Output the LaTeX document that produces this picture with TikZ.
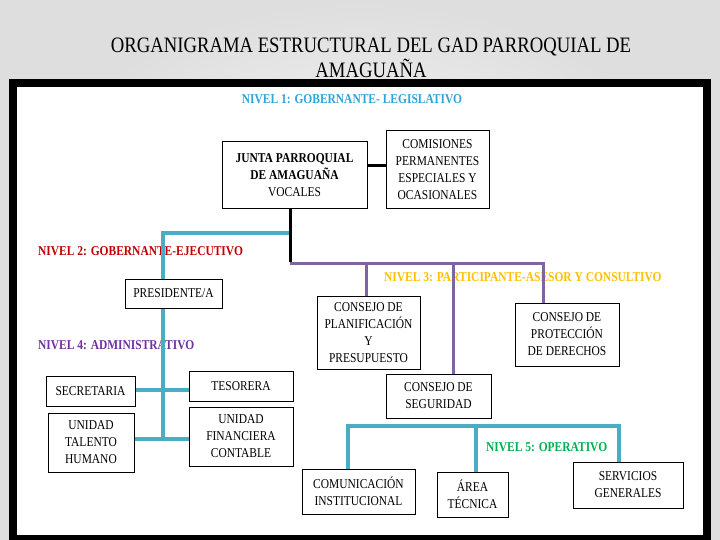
\documentclass[tikz,border=0pt]{standalone}
\usepackage{fontspec}
\setmainfont{Liberation Serif}[FakeStretch=0.85]
\usetikzlibrary{calc}
\definecolor{tealline}{HTML}{4BACC6}
\definecolor{purpline}{HTML}{8064A2}
\definecolor{nivA}{HTML}{2FA4D6}
\definecolor{nivB}{HTML}{C00000}
\definecolor{nivC}{HTML}{FFC000}
\definecolor{nivD}{HTML}{7030A0}
\definecolor{nivE}{HTML}{00B050}
\tikzset{
  orgbox/.style={draw=black, line width=1pt, fill=white, align=center, inner sep=0pt,
    font=\fontsize{13.5}{17}\selectfont},
  levellabel/.style={font=\fontsize{13.5}{16}\selectfont\bfseries, inner sep=0pt},
  blkline/.style={draw=black, line width=3pt},
  tealconn/.style={draw=tealline, line width=3.5pt},
  purpconn/.style={draw=purpline, line width=3pt},
}
\begin{document}
\begin{tikzpicture}[x=1pt,y=-1pt]
\useasboundingbox (0,0) rectangle (720,540);
% background
\shade[inner color=white, outer color=black!13] (0,0) rectangle (720,540);
\fill[black] (9,79) rectangle (711,540);
\fill[white] (17,87) rectangle (703,535);
% title
\node[font=\fontsize{22}{26}\selectfont, inner sep=0pt] (title1) at (371,47) {ORGANIGRAMA ESTRUCTURAL DEL GAD PARROQUIAL DE};
\node[font=\fontsize{22}{26}\selectfont, inner sep=0pt] (title2) at (371,68) {AMAGUAÑA};
% level labels
\node[levellabel, text=nivA] (n1) at (352,99) {NIVEL 1: GOBERNANTE- LEGISLATIVO};
\node[levellabel, text=nivB, anchor=west] (n2) at (38,251) {NIVEL 2: GOBERNANTE-EJECUTIVO};
\node[levellabel, text=nivC, anchor=west] (n3) at (384,277) {NIVEL 3: PARTICIPANTE-ASESOR Y CONSULTIVO};
\node[levellabel, text=nivD, anchor=west] (n4) at (38,345) {NIVEL 4: ADMINISTRATIVO};
\node[levellabel, text=nivE, anchor=west] (n5) at (486,447) {NIVEL 5: OPERATIVO};
% boxes
\node[orgbox, minimum width=145pt, minimum height=67pt] (junta) at (294.5,175.5) {\textbf{JUNTA PARROQUIAL}\\\textbf{DE AMAGUAÑA}\\VOCALES};
\node[orgbox, minimum width=103pt, minimum height=78pt] (comis) at (437.5,170) {COMISIONES\\PERMANENTES\\ESPECIALES Y\\OCASIONALES};
\node[orgbox, minimum width=97pt, minimum height=29pt] (pres) at (173.5,293.5) {PRESIDENTE/A};
\node[orgbox, minimum width=103pt, minimum height=73pt] (plan) at (368.5,332.5) {CONSEJO DE\\PLANIFICACIÓN\\Y\\PRESUPUESTO};
\node[orgbox, minimum width=104pt, minimum height=63pt] (prot) at (567,334.5) {CONSEJO DE\\PROTECCIÓN\\DE DERECHOS};
\node[orgbox, minimum width=105pt, minimum height=44pt] (seg) at (438.5,396) {CONSEJO DE\\SEGURIDAD};
\node[orgbox, minimum width=89pt, minimum height=30pt] (secr) at (90.5,391) {SECRETARIA};
\node[orgbox, minimum width=104pt, minimum height=30pt] (teso) at (241,386) {TESORERA};
\node[orgbox, minimum width=86pt, minimum height=59pt] (uth) at (91,442.5) {UNIDAD\\TALENTO\\HUMANO};
\node[orgbox, minimum width=104pt, minimum height=59pt] (ufc) at (241,436.5) {UNIDAD\\FINANCIERA\\CONTABLE};
\node[orgbox, minimum width=113pt, minimum height=45pt] (com) at (358.5,491.5) {COMUNICACIÓN\\INSTITUCIONAL};
\node[orgbox, minimum width=71pt, minimum height=45pt] (area) at (472.5,494.5) {ÁREA\\TÉCNICA};
\node[orgbox, minimum width=110pt, minimum height=46pt] (serv) at (628,485) {SERVICIOS\\GENERALES};
% junction coordinates
\coordinate (jA) at (290,263);
\coordinate (tA) at (290,233);
\coordinate (tB) at (163,233);
\coordinate (pA) at (366,263);
\coordinate (pB) at (453,263);
\coordinate (pC) at (543,263);
\coordinate (tC) at (163,439);
\coordinate (hA) at (163,390);
\coordinate (hB) at (163,439);
\coordinate (oA) at (348,426);
\coordinate (oB) at (476,426);
\coordinate (oC) at (619,426);
% connectors
\draw[blkline] ([yshift=9.5pt]junta.east) -- ([yshift=9.5pt]junta.east -| comis.west);
\draw[tealconn] (tA) -- (tB) -- (tB |- pres.north);
\draw[purpconn] (jA) -- (pC) -- (pC |- prot.north);
\draw[purpconn] (pA) -- (pA |- plan.north);
\draw[purpconn] (pB) -- (pB |- seg.north);
\draw[blkline] (junta.south -| jA) -- ([yshift=1.5pt]jA);
\draw[tealconn] (tB |- pres.south) -- (tC);
\draw[tealconn] (hA -| secr.east) -- (hA -| teso.west);
\draw[tealconn] (hB -| uth.east) -- (hB -| ufc.west);
\draw[tealconn] (oA |- com.north) -- (oA) -- (oC) -- (oC |- serv.north);
\draw[tealconn] (oB) -- (oB |- area.north);
\end{tikzpicture}
\end{document}
